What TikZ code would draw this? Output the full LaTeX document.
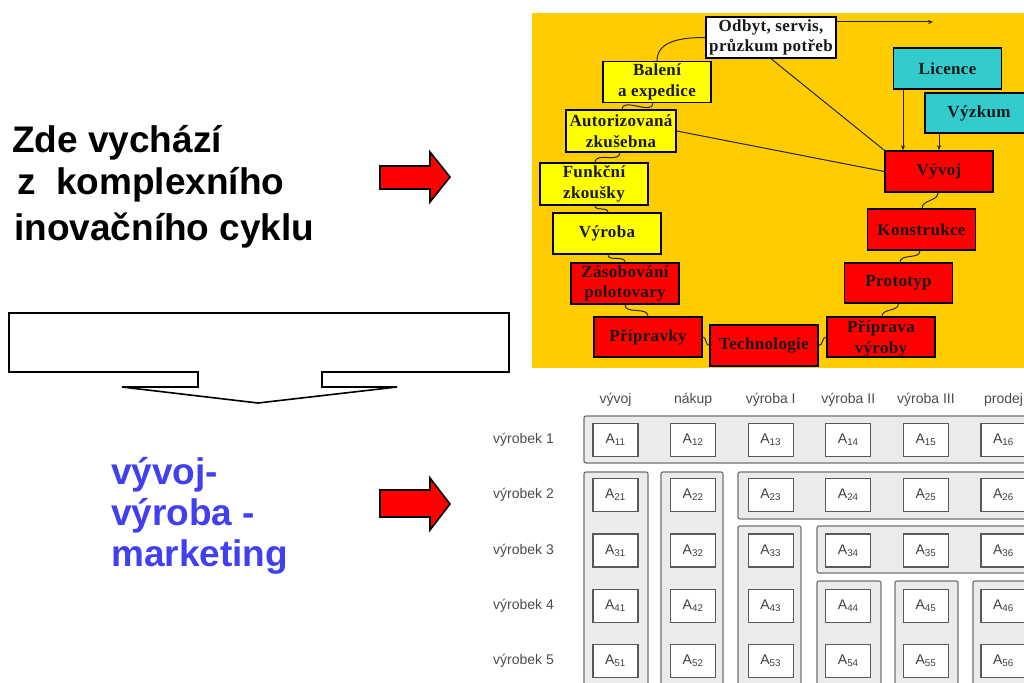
\documentclass[tikz,border=0pt]{standalone}
\usepackage{fontspec}
\setmainfont{Liberation Serif}
\newfontfamily\sansfam{Liberation Sans}
\newfontfamily\serifspaced[LetterSpace=2]{Liberation Serif}
\usetikzlibrary{arrows.meta,calc}

\definecolor{panelgold}{HTML}{FFCC00}
\definecolor{boxyellow}{HTML}{FFFF00}
\definecolor{boxred}{HTML}{FF0000}
\definecolor{boxcyan}{HTML}{33CCCC}
\definecolor{slogan}{HTML}{4040F0}
\definecolor{groupfill}{HTML}{EBEBEB}

\tikzset{
  stagebox/.style={draw=black, line width=1.4pt, minimum width=108pt, minimum height=41pt,
    inner sep=0.5pt, align=center, text=black!90,
    font=\serifspaced\bfseries\fontsize{17}{20.5}\selectfont},
  ybox/.style={stagebox, fill=boxyellow},
  rbox/.style={stagebox, fill=boxred},
  cbox/.style={stagebox, fill=boxcyan},
  wbox/.style={stagebox, fill=white},
  wire/.style={draw=black!85, line width=1pt},
  tip/.style={-{Stealth[length=5pt,width=4pt]}},
  bigtext/.style={font=\sansfam\bfseries\fontsize{37}{40}\selectfont, inner sep=0pt, anchor=base west},
  blockarrow/.style={fill=boxred, draw=black, line width=1.6pt, line join=miter},
  group/.style={fill=groupfill, draw=black!55, line width=1.2pt, rounded corners=2pt},
  cell/.style={fill=white, draw=black!65, line width=1.2pt, minimum width=45pt, minimum height=33pt,
    inner sep=0pt, text=black!75, font=\sansfam\fontsize{14}{14}\selectfont},
  gridlab/.style={text=black!70, inner sep=0pt, font=\sansfam\fontsize{14}{14}\selectfont}
}

\begin{document}
\begin{tikzpicture}[x=1pt,y=-1pt]
\useasboundingbox (0,0) rectangle (1024,682);
\clip (0,0) rectangle (1024,682);
\fill[white] (0,0) rectangle (1024,682);

% ---- left column: headings and arrows ----
\node[bigtext] (t1) at (12,152) {Zde vychází};
\node[bigtext] (t2) at (17,194) {z~~komplexního};
\node[bigtext] (t3) at (14,240) {inovačního cyklu};

\node[bigtext, text=slogan] (s1) at (111,484) {vývoj-};
\node[bigtext, text=slogan] (s2) at (111,525) {výroba -};
\node[bigtext, text=slogan] (s3) at (111,566) {marketing};

\draw[blockarrow] (380,166) -- (430,166) -- (430,152) -- (450,177) -- (430,202) -- (430,189) -- (380,189) -- cycle;
\draw[blockarrow] (380,490) -- (430,490) -- (430,478) -- (450,504) -- (430,530) -- (430,517) -- (380,517) -- cycle;

\draw[fill=white, draw=black, line width=1.6pt, line join=miter]
  (9,313) -- (509,313) -- (509,372) -- (322,372) -- (322,387) -- (397,387) -- (258,403)
  -- (122,387) -- (198,387) -- (198,372) -- (9,372) -- cycle;

% ---- innovation cycle ----
\fill[panelgold] (532,13) rectangle (1024,368);

\node[wbox, minimum width=130pt] (odb) at (771,37.5) {Odbyt, servis,\\průzkum potřeb};
\node[ybox] (bal) at (657,82) {Balení\\a expedice};
\node[ybox, minimum width=110pt, minimum height=42pt] (aut) at (621,131) {Autorizovaná\\zkušebna};
\node[ybox, minimum height=42pt] (fun) at (594,184) {Funkční\\zkoušky};
\node[ybox] (vyr) at (607,233.5) {Výroba};
\node[rbox] (zas) at (625,283.5) {Zásobování\\polotovary};
\node[rbox, minimum height=40pt] (pri) at (648,337) {Přípravky};
\node[rbox] (tec) at (764,345.5) {Technologie};
\node[rbox, minimum height=40pt, text depth=0pt] (ppv) at (881,337) {Příprava\\výroby};
\node[rbox, minimum height=40pt] (pro) at (898.5,283) {Prototyp};
\node[rbox] (kon) at (921.5,229.5) {Konstrukce};
\node[rbox] (vyv) at (939,171.5) {Vývoj};
\node[cbox] (lic) at (947.5,68.5) {Licence};
\node[cbox, minimum height=40pt] (vyz) at (979,113) {Výzkum};

% chain of stages
\draw[wire] (odb.west) to[out=180,in=90] (bal.north);
\draw[wire] ([xshift=-4pt]bal.south) to[out=-90,in=90] ([xshift=1pt]aut.north);
\draw[wire] ([xshift=-1pt]aut.south) to[out=-90,in=90] ([xshift=1pt]fun.north);
\draw[wire] ([xshift=1pt]fun.south) to[out=-90,in=90] ([xshift=1pt]vyr.north);
\draw[wire] ([xshift=1pt]vyr.south) to[out=-90,in=90] (zas.north);
\draw[wire] (zas.south) to[out=-90,in=90] (pri.north);
\draw[wire] (pri.east) to[out=0,in=180] (tec.west);
\draw[wire] (tec.east) to[out=0,in=180] (ppv.west);
\draw[wire] ([xshift=1pt]ppv.north) to[out=90,in=-90] (pro.south);
\draw[wire] ([xshift=1.5pt]pro.north) to[out=90,in=-90] ([xshift=-1.5pt]kon.south);
\draw[wire] ([xshift=0.5pt]kon.north) to[out=90,in=-90] ([xshift=-1pt]vyv.south);

% feedback and inputs
\draw[wire] (odb.south) -- (vyv.north west);
\draw[wire] (aut.east) -- (vyv.west);
\coordinate (lv) at ([xshift=-36pt]vyv.north);
\draw[wire, tip] (lv |- lic.south) -- (lv);
\draw[wire, tip] (vyz.south -| vyv.north) -- (vyv.north);
\coordinate (oe) at (933,22);
\draw[wire, tip] (odb.east |- oe) -- (oe);

% ---- product / activity matrix ----
\draw[group] (584,416) rectangle (1040,463);
\draw[group] (584,472) rectangle (648,700);
\draw[group] (661,472) rectangle (723,700);
\draw[group] (738,472) rectangle (1040,519);
\draw[group] (738,526) rectangle (801,700);
\draw[group] (817,526) rectangle (1040,573);
\draw[group] (817,581) rectangle (881,700);
\draw[group] (895,581) rectangle (958,700);
\draw[group] (973,581) rectangle (1036,700);

\foreach \c/\xx/\t in {1/615.5/vývoj, 2/693.1/nákup, 3/770.7/výroba I, 4/848.3/výroba II, 5/925.9/výroba III, 6/1003.5/prodej}
  \node[gridlab] (h\c) at (\xx,400) {\t};

\foreach \r/\yy in {1/440, 2/495, 3/550.5, 4/606, 5/661} {
  \node[gridlab, anchor=west] (r\r) at (493,\yy) {výrobek \r};
  \foreach \c/\xx in {1/615.5, 2/693.1, 3/770.7, 4/848.3, 5/925.9, 6/1003.5}
    \node[cell] (a\r\c) at (\xx,\yy) {A\textsubscript{\r\c}};
}
\end{tikzpicture}
\end{document}
